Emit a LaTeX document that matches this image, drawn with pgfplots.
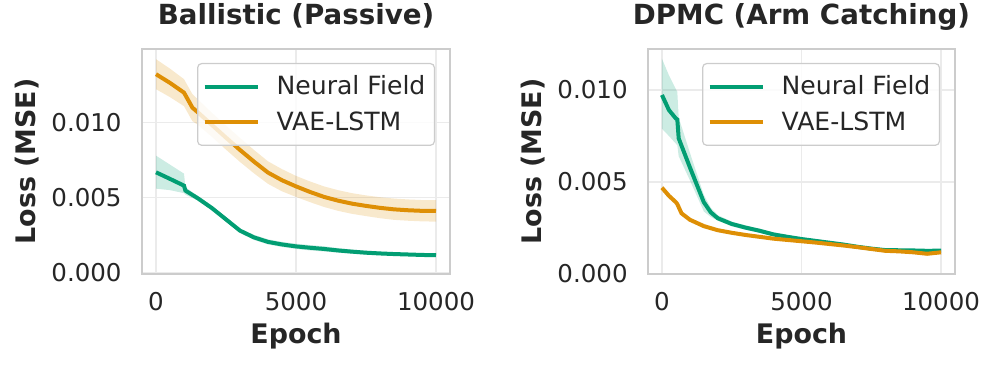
\documentclass[border=0pt]{standalone}
\usepackage{fontspec}
\setmainfont{DejaVu Sans}
\usepackage{pgfplots}
\pgfplotsset{compat=1.18}
\usepgfplotslibrary{fillbetween}
\definecolor{cgreen}{HTML}{029E73}
\definecolor{corange}{HTML}{DE8F05}
\definecolor{txt}{HTML}{262626}
\definecolor{framec}{HTML}{CCCCCC}
\definecolor{gridc}{HTML}{EBEBEB}
\pgfplotsset{
 myax/.style={
  scale only axis, width=154bp, height=112.5bp,
  xmin=-500, xmax=10500,
  xtick={0,5000,10000},
  ytick={0,0.005,0.01},
  scaled y ticks=false, scaled x ticks=false,
  axis line style={framec, line width=0.7bp},
  grid=major, major grid style={gridc, line width=0.6bp},
  tick style={draw=none},
  /pgf/number format/assume math mode=true,
  /pgf/number format/set thousands separator={},
  yticklabel style={/pgf/number format/.cd, fixed, fixed zerofill, precision=3, /tikz/.cd, anchor=east, inner sep=0pt, xshift=-10bp},
  xticklabel style={anchor=base, inner sep=0pt, yshift=-18bp},
  tick label style={font=\fontsize{12.3}{14.7}\selectfont, text=txt},
  xlabel={Epoch}, ylabel={Loss (MSE)},
  xlabel style={at={(axis description cs:0.5,-0.311)}, anchor=base, inner sep=0pt, font=\bfseries\fontsize{13.5}{16}\selectfont, text=txt},
  ylabel style={at={(axis description cs:-0.373,0.5)}, anchor=center, inner sep=0pt, font=\bfseries\fontsize{13.5}{16}\selectfont, text=txt},
  title style={at={(axis description cs:0.5,1)}, anchor=base, inner sep=0pt, yshift=6.5bp, font=\bfseries\fontsize{13.9}{16}\selectfont, text=txt},
  legend cell align=left,
  legend image code/.code={\draw[#1, line width=2bp] (0bp,0bp) -- (26.7bp,0bp);},
  legend style={at={(rel axis cs:1,1)}, anchor=north east, xshift=-7.5bp, yshift=-7bp,
    draw=framec, line width=0.6bp, rounded corners=2bp, fill=white, fill opacity=0.8, text opacity=1,
    font=\fontsize{12.6}{15}\selectfont, text=txt,
    inner xsep=2.5bp, inner ysep=4bp, nodes={inner sep=2bp}, column sep=6.3bp, row sep=3bp},
 }
}
\begin{document}
\begin{tikzpicture}
% ---------------- Left panel
\begin{axis}[myax, at={(71bp,46.5bp)}, anchor=south west,
  ymin=-0.00009, ymax=0.01491, title={Ballistic (Passive)}]
\addplot[name path=gu, draw=none, forget plot] coordinates {
(0,0.0078)(500,0.0072)(1000,0.0066)(1050,0.0057)(1500,0.0051)(2000,0.00445)(2500,0.0037)(3000,0.00295)(3500,0.00252)(4000,0.00222)(4500,0.00205)(5000,0.00193)(5500,0.00184)(6000,0.00176)(6500,0.00164)(7000,0.00154)(7500,0.00146)(8000,0.00140)(8500,0.00135)(9000,0.00131)(9500,0.00128)(10000,0.00126)};
\addplot[name path=gl, draw=none, forget plot] coordinates {
(0,0.0056)(500,0.0055)(1000,0.0053)(1050,0.0052)(1500,0.0048)(2000,0.00415)(2500,0.0034)(3000,0.00265)(3500,0.00218)(4000,0.00188)(4500,0.00171)(5000,0.00158)(5500,0.00148)(6000,0.00141)(6500,0.00133)(7000,0.00126)(7500,0.00120)(8000,0.00116)(8500,0.00113)(9000,0.00111)(9500,0.00108)(10000,0.00106)};
\addplot[cgreen, fill opacity=0.2, forget plot] fill between[of=gu and gl];
\addplot[name path=ou, draw=none, forget plot] coordinates {
(0,0.01423)(500,0.0136)(1000,0.0129)(1300,0.0119)(1500,0.01155)(2000,0.01065)(2500,0.0098)(3000,0.00898)(3500,0.00818)(4000,0.00742)(4500,0.00690)(5000,0.00645)(5500,0.00608)(6000,0.00575)(6500,0.00550)(7000,0.00530)(7500,0.00515)(8000,0.00503)(8500,0.00494)(9000,0.00488)(9500,0.00484)(10000,0.00483)};
\addplot[name path=ol, draw=none, forget plot] coordinates {
(0,0.01223)(500,0.0117)(1000,0.0111)(1300,0.0101)(1500,0.00985)(2000,0.00905)(2500,0.0082)(3000,0.00738)(3500,0.00662)(4000,0.00592)(4500,0.00542)(5000,0.00505)(5500,0.00470)(6000,0.00438)(6500,0.00412)(7000,0.00392)(7500,0.00377)(8000,0.00363)(8500,0.00352)(9000,0.00346)(9500,0.00342)(10000,0.00340)};
\addplot[corange, fill opacity=0.2, forget plot] fill between[of=ou and ol];
\addplot[cgreen, line width=2bp] coordinates {
(0,0.00669)(500,0.00625)(1000,0.00580)(1050,0.00547)(1500,0.00495)(2000,0.00430)(2500,0.00355)(3000,0.00280)(3500,0.00235)(4000,0.00205)(4500,0.00188)(5000,0.00175)(5500,0.00166)(6000,0.00158)(6500,0.00148)(7000,0.00140)(7500,0.00133)(8000,0.00128)(8500,0.00124)(9000,0.00121)(9500,0.00118)(10000,0.00116)};
\addlegendentry{Neural Field}
\addplot[corange, line width=2bp] coordinates {
(0,0.01323)(500,0.01265)(1000,0.01200)(1300,0.01100)(1500,0.01068)(2000,0.00984)(2500,0.00900)(3000,0.00818)(3500,0.00740)(4000,0.00667)(4500,0.00616)(5000,0.00575)(5500,0.00538)(6000,0.00505)(6500,0.00480)(7000,0.00460)(7500,0.00445)(8000,0.00432)(8500,0.00422)(9000,0.00416)(9500,0.00412)(10000,0.00411)};
\addlegendentry{VAE-LSTM}
\end{axis}
% ---------------- Right panel
\begin{axis}[myax, at={(324bp,46.5bp)}, anchor=south west, width=153.5bp,
  ymin=0, ymax=0.01223, title={DPMC (Arm Catching)}]
\addplot[name path=gu, draw=none, forget plot] coordinates {
(0,0.0117)(250,0.0108)(550,0.0099)(600,0.0085)(1000,0.0066)(1500,0.0043)(1750,0.0036)(2000,0.0032)(2500,0.00285)(3000,0.00264)(3500,0.00246)(4000,0.00226)(4500,0.00212)(5000,0.00200)(5500,0.00190)(6000,0.00180)(6500,0.00170)(7000,0.00158)(7500,0.00147)(8000,0.00139)(8500,0.00137)(9000,0.00136)(9500,0.00134)(10000,0.00135)};
\addplot[name path=gl, draw=none, forget plot] coordinates {
(0,0.0079)(250,0.0075)(550,0.0070)(600,0.0064)(1000,0.0051)(1500,0.0034)(1750,0.0031)(2000,0.0029)(2500,0.00259)(3000,0.00240)(3500,0.00224)(4000,0.00204)(4500,0.00192)(5000,0.00180)(5500,0.00170)(6000,0.00160)(6500,0.00150)(7000,0.00138)(7500,0.00129)(8000,0.00121)(8500,0.00121)(9000,0.00120)(9500,0.00118)(10000,0.00119)};
\addplot[cgreen, fill opacity=0.2, forget plot] fill between[of=gu and gl];
\addplot[name path=ou, draw=none, forget plot] coordinates {
(0,0.00479)(500,0.00400)(700,0.00340)(1000,0.00304)(2000,0.00245)(4000,0.00198)(6000,0.00169)(8000,0.00133)(9000,0.00126)(9500,0.00120)(10000,0.00128)};
\addplot[name path=ol, draw=none, forget plot] coordinates {
(0,0.00459)(500,0.00380)(700,0.00320)(1000,0.00286)(2000,0.00231)(4000,0.00186)(6000,0.00157)(8000,0.00119)(9000,0.00110)(9500,0.00100)(10000,0.00108)};
\addplot[corange, fill opacity=0.2, forget plot] fill between[of=ou and ol];
\addplot[cgreen, line width=2bp] coordinates {
(0,0.00973)(250,0.00891)(500,0.00845)(550,0.00840)(600,0.00737)(1000,0.00580)(1500,0.00390)(1750,0.00335)(2000,0.00303)(2500,0.00272)(3000,0.00252)(3500,0.00235)(4000,0.00215)(4500,0.00202)(5000,0.00190)(5500,0.00180)(6000,0.00170)(6500,0.00160)(7000,0.00148)(7500,0.00138)(8000,0.00130)(8500,0.00129)(9000,0.00128)(9500,0.00126)(10000,0.00127)};
\addlegendentry{Neural Field}
\addplot[corange, line width=2bp] coordinates {
(0,0.00469)(250,0.00425)(500,0.00390)(550,0.00380)(700,0.00330)(1000,0.00295)(1500,0.00260)(2000,0.00238)(2500,0.00224)(3000,0.00212)(3500,0.00202)(4000,0.00192)(4500,0.00185)(5000,0.00178)(5500,0.00171)(6000,0.00163)(6500,0.00155)(7000,0.00146)(7500,0.00136)(8000,0.00126)(8500,0.00123)(9000,0.00118)(9500,0.00110)(10000,0.00118)};
\addlegendentry{VAE-LSTM}
\end{axis}
\pgfresetboundingbox
\path[use as bounding box] (0,0) rectangle (499bp,183.5bp);
\end{tikzpicture}
\end{document}
